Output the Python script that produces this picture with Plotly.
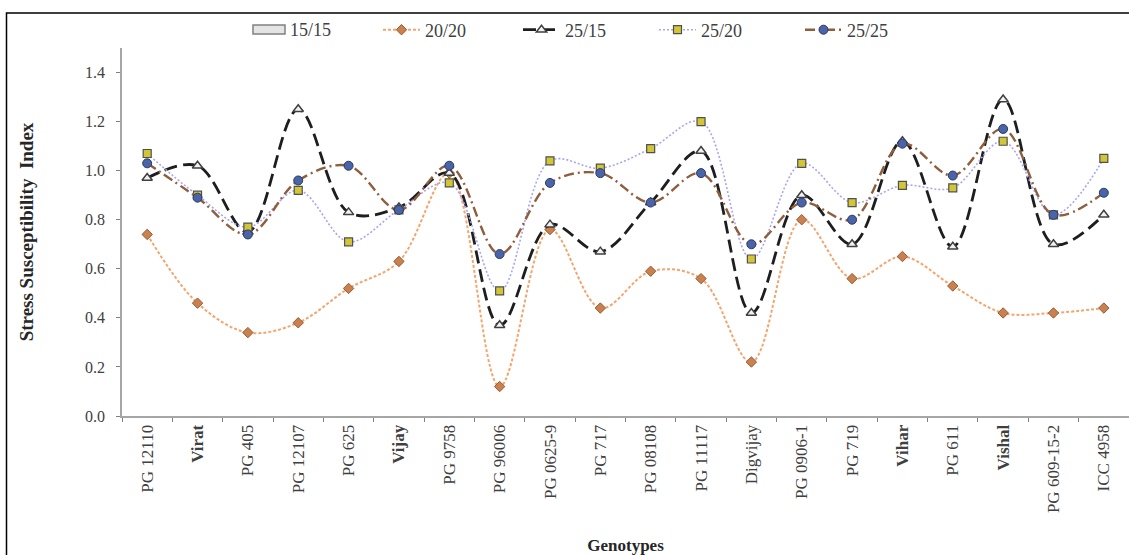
import plotly.graph_objects as go

# Genotypes on the x axis
genotypes = ["PG 12110", "Virat", "PG 405", "PG 12107", "PG 625", "Vijay", "PG 9758",
             "PG 96006", "PG 0625-9", "PG 717", "PG 08108", "PG 11117", "Digvijay",
             "PG 0906-1", "PG 719", "Vihar", "PG 611", "Vishal", "PG 609-15-2", "ICC 4958"]

# Varieties shown in bold in the tick labels
bold_names = ["Virat", "Vijay", "Vihar", "Vishal"]

# Stress susceptibility index per temperature regime (day/night)
ssi_15_15 = [None] * len(genotypes)
ssi_20_20 = [0.74, 0.46, 0.34, 0.38, 0.52, 0.63, 0.99, 0.12, 0.76, 0.44,
             0.59, 0.56, 0.22, 0.80, 0.56, 0.65, 0.53, 0.42, 0.42, 0.44]
ssi_25_15 = [0.97, 1.02, 0.75, 1.25, 0.83, 0.85, 0.99, 0.37, 0.78, 0.67,
             0.87, 1.08, 0.42, 0.90, 0.70, 1.12, 0.69, 1.29, 0.70, 0.82]
ssi_25_20 = [1.07, 0.90, 0.77, 0.92, 0.71, 0.84, 0.95, 0.51, 1.04, 1.01,
             1.09, 1.20, 0.64, 1.03, 0.87, 0.94, 0.93, 1.12, 0.82, 1.05]
ssi_25_25 = [1.03, 0.89, 0.74, 0.96, 1.02, 0.84, 1.02, 0.66, 0.95, 0.99,
             0.87, 0.99, 0.70, 0.87, 0.80, 1.11, 0.98, 1.17, 0.82, 0.91]

y_ticks = [0.0, 0.2, 0.4, 0.6, 0.8, 1.0, 1.2, 1.4]

FONT = "Liberation Serif"
tick_text = [f"<b>{g}</b>" if g in bold_names else g for g in genotypes]

L, T, B = 122, 48, 139
W, H = 1129, 555
plot_w = W - L
plot_h = H - T - B


def px_x(px):
    return (px - L) / plot_w


def px_y(py):
    return (H - B - py) / plot_h


fig = go.Figure()

# 15/15 is the reference regime: it has no index values and is only keyed
fig.add_trace(go.Scatter(
    x=genotypes, y=ssi_15_15, name="15/15", mode="lines",
    line=dict(color="#7F7F7F", width=1.5), showlegend=False,
))
fig.add_trace(go.Scatter(
    x=genotypes, y=ssi_20_20, name="20/20", mode="lines+markers",
    line=dict(color="#F2A66E", width=2, dash="3px,2px", shape="spline", smoothing=1),
    marker=dict(symbol="diamond", size=8, color="#C9814F",
                line=dict(color="#9A5A34", width=1)),
    legend="legend2",
))
fig.add_trace(go.Scatter(
    x=genotypes, y=ssi_25_15, name="25/15", mode="lines+markers",
    line=dict(color="#1E1E1E", width=2.8, dash="13px,6px", shape="spline", smoothing=1),
    marker=dict(symbol="triangle-up", size=9, color="#F2F2F2",
                line=dict(color="#404040", width=1.5)),
    legend="legend3",
))
fig.add_trace(go.Scatter(
    x=genotypes, y=ssi_25_20, name="25/20", mode="lines+markers",
    line=dict(color="#A8A6F0", width=1.6, dash="2px,2px", shape="spline", smoothing=1),
    marker=dict(symbol="square", size=8, color="#D2C636",
                line=dict(color="#505050", width=1.2)),
    legend="legend4",
))
fig.add_trace(go.Scatter(
    x=genotypes, y=ssi_25_25, name="25/25", mode="lines+markers",
    line=dict(color="#8E5E3E", width=2.4, dash="10px,4px,2px,4px", shape="spline", smoothing=1),
    marker=dict(symbol="circle", size=9, color="#4A64AA",
                line=dict(color="#2E3A5E", width=1)),
    legend="legend5",
))

# Outer frame of the figure
fig.add_shape(type="rect", xref="paper", yref="paper",
              x0=px_x(6.5), x1=1.02, y0=-0.45, y1=px_y(13),
              line=dict(color="black", width=1.5), layer="below")

# Key entry for 15/15: boxed swatch with its label
fig.add_shape(type="rect", xref="paper", yref="paper",
              x0=px_x(253), x1=px_x(285), y0=px_y(34), y1=px_y(25),
              fillcolor="#E4E4E4", line=dict(color="#808080", width=1.5))
fig.add_annotation(x=px_x(288), y=px_y(30), xref="paper", yref="paper",
                   text="15/15", showarrow=False, xanchor="left", yanchor="middle",
                   font=dict(family=FONT, size=18, color="#404040"))


def legend_box(px_left):
    return dict(orientation="h", x=px_x(px_left), y=px_y(30),
                xanchor="left", yanchor="middle", itemwidth=37,
                font=dict(family=FONT, size=18, color="#404040"),
                bgcolor="rgba(0,0,0,0)")


fig.update_layout(
    width=W, height=H,
    margin=dict(l=L, r=0, t=T, b=B, autoexpand=False),
    paper_bgcolor="white", plot_bgcolor="white",
    font=dict(family=FONT, color="#404040", size=14),
    showlegend=True,
    legend2=legend_box(378),
    legend3=legend_box(518),
    legend4=legend_box(654),
    legend5=legend_box(800),
)

fig.update_xaxes(
    type="category", tickmode="array", tickvals=genotypes, ticktext=tick_text,
    tickangle=-90, tickson="boundaries", ticks="outside", ticklen=4,
    tickcolor="#808080", showline=True, linecolor="#A6A6A6", linewidth=2,
    showgrid=False, zeroline=False,
    tickfont=dict(family=FONT, size=17, color="#404040"),
    title=dict(text="<b>Genotypes</b>", font=dict(family=FONT, size=17, color="#262626"),
               standoff=40),
    range=[-0.5, 19.5],
)
fig.update_yaxes(
    range=[0, 1.5], tickvals=y_ticks, ticktext=[f"{v:.1f}" for v in y_ticks],
    ticks="outside", ticklen=4, tickcolor="#808080", ticklabelstandoff=8,
    showline=True, linecolor="#A6A6A6", linewidth=1.5,
    showgrid=False, zeroline=False,
    tickfont=dict(family=FONT, size=16, color="#404040"),
    title=dict(text="<b>Stress Susceptibility  Index</b>",
               font=dict(family=FONT, size=19, color="#262626"), standoff=46),
)

fig.write_html("out.html")
